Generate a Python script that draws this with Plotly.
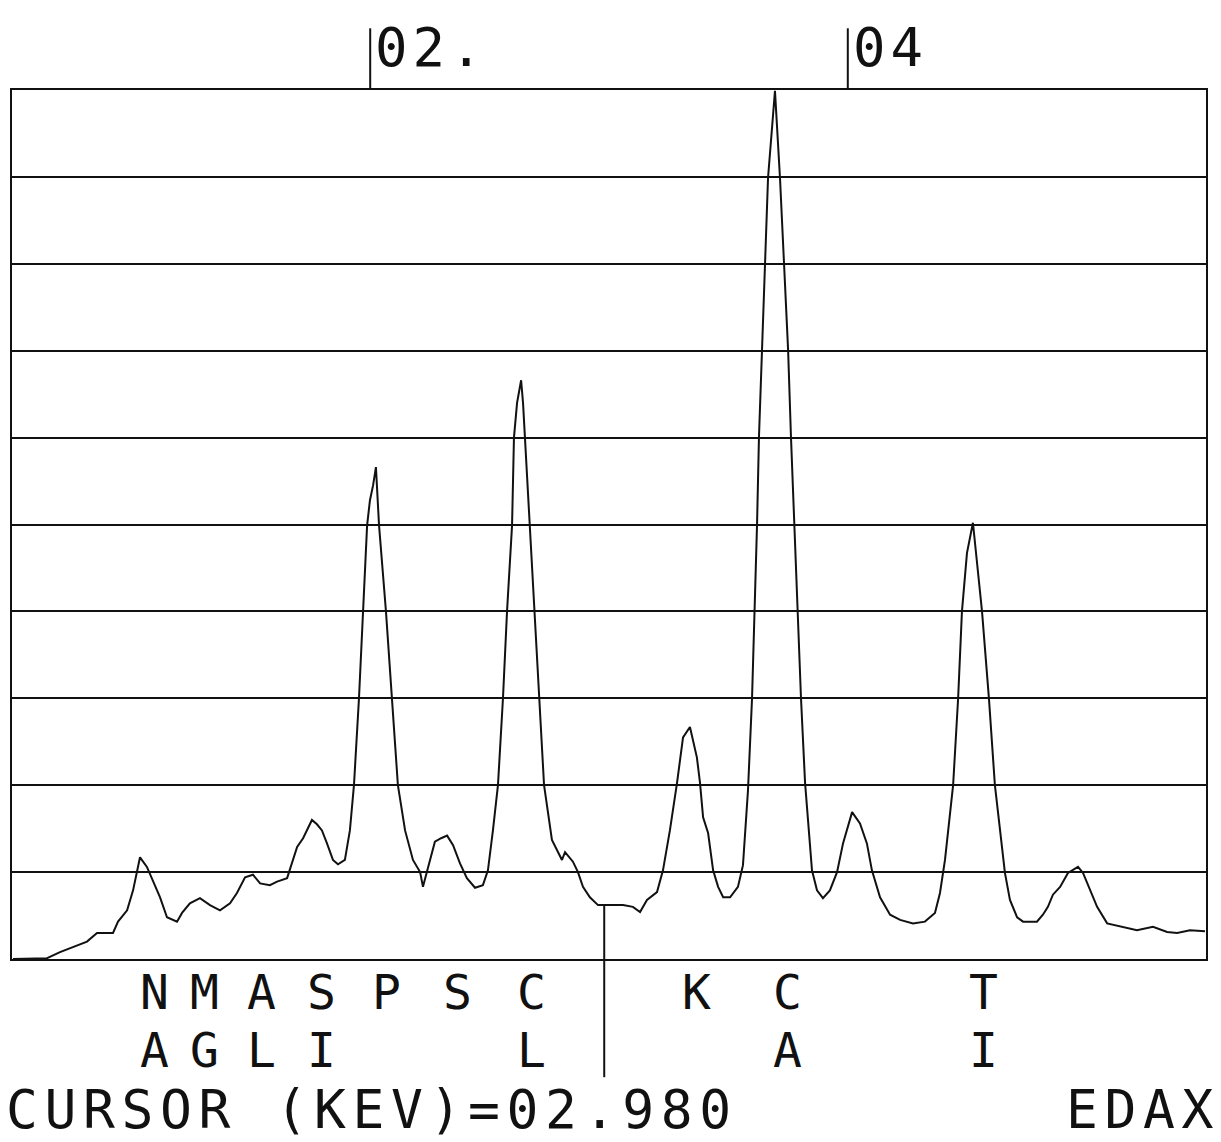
import plotly.graph_objects as go

# ---------------- data ----------------
energy_kev = [
    0.504, 0.647, 0.701, 0.772, 0.814, 0.856, 0.923, 0.944, 0.982, 1.007,
    1.036, 1.065, 1.090, 1.120, 1.149, 1.191, 1.212, 1.245, 1.287, 1.329,
    1.371, 1.413, 1.442, 1.476, 1.509, 1.539, 1.580, 1.610, 1.652, 1.673,
    1.694, 1.719, 1.740, 1.756, 1.777, 1.798, 1.819, 1.844, 1.865, 1.894,
    1.915, 1.932, 1.953, 1.970, 1.987, 1.999, 2.012, 2.024, 2.037, 2.066,
    2.091, 2.116, 2.146, 2.179, 2.209, 2.221, 2.242, 2.271, 2.297, 2.322,
    2.347, 2.376, 2.405, 2.439, 2.472, 2.493, 2.514, 2.535, 2.556, 2.573,
    2.594, 2.602, 2.615, 2.632, 2.640, 2.648, 2.669, 2.690, 2.707, 2.728,
    2.761, 2.782, 2.803, 2.816, 2.849, 2.870, 2.891, 2.920, 2.954, 2.996,
    3.059, 3.100, 3.130, 3.159, 3.201, 3.226, 3.255, 3.285, 3.310, 3.339,
    3.368, 3.381, 3.394, 3.415, 3.436, 3.457, 3.478, 3.507, 3.540, 3.561,
    3.582, 3.599, 3.611, 3.620, 3.628, 3.641, 3.653, 3.666, 3.695, 3.716,
    3.733, 3.750, 3.762, 3.775, 3.791, 3.804, 3.821, 3.850, 3.871, 3.896,
    3.925, 3.955, 3.980, 4.018, 4.051, 4.080, 4.101, 4.135, 4.177, 4.219,
    4.273, 4.323, 4.365, 4.386, 4.407, 4.428, 4.441, 4.462, 4.478, 4.499,
    4.524, 4.562, 4.591, 4.616, 4.637, 4.658, 4.679, 4.709, 4.734, 4.792,
    4.817, 4.838, 4.859, 4.889, 4.922, 4.964, 4.985, 5.014, 5.044, 5.086,
    5.152, 5.211, 5.278, 5.337, 5.379, 5.433, 5.496,
]
counts_div = [
    0.00, 0.01, 0.08, 0.16, 0.20, 0.30, 0.30, 0.43, 0.56, 0.79,
    1.17, 1.06, 0.91, 0.71, 0.48, 0.43, 0.53, 0.64, 0.70, 0.62,
    0.56, 0.64, 0.76, 0.94, 0.97, 0.87, 0.85, 0.89, 0.93, 1.10,
    1.29, 1.39, 1.52, 1.60, 1.55, 1.48, 1.33, 1.14, 1.09, 1.14,
    1.48, 2.00, 3.00, 4.00, 4.99, 5.28, 5.45, 5.66, 4.99, 4.00,
    3.00, 2.00, 1.48, 1.14, 1.00, 0.83, 1.05, 1.35, 1.39, 1.42,
    1.31, 1.10, 0.93, 0.82, 0.85, 1.02, 1.48, 2.00, 3.00, 4.00,
    4.99, 6.00, 6.40, 6.66, 6.40, 6.00, 4.99, 4.00, 3.00, 2.00,
    1.37, 1.25, 1.14, 1.23, 1.12, 1.00, 0.83, 0.71, 0.62, 0.62,
    0.62, 0.60, 0.54, 0.68, 0.77, 1.02, 1.48, 2.03, 2.55, 2.67,
    2.32, 2.03, 1.63, 1.45, 1.02, 0.83, 0.71, 0.71, 0.83, 1.08,
    1.94, 3.00, 4.00, 5.01, 6.01, 7.01, 8.00, 8.99, 9.99, 8.99,
    8.00, 7.01, 6.01, 5.01, 4.00, 3.00, 2.03, 1.02, 0.79, 0.70,
    0.79, 1.00, 1.33, 1.69, 1.56, 1.33, 1.02, 0.71, 0.51, 0.45,
    0.41, 0.43, 0.53, 0.76, 1.14, 1.68, 2.00, 3.00, 4.00, 4.67,
    5.02, 4.00, 3.00, 2.00, 1.48, 0.99, 0.68, 0.48, 0.43, 0.43,
    0.51, 0.60, 0.74, 0.83, 0.99, 1.06, 0.99, 0.79, 0.60, 0.41,
    0.37, 0.33, 0.37, 0.31, 0.30, 0.33, 0.32,
]

element_kev = [1.04, 1.25, 1.49, 1.74, 2.01, 2.31, 2.62, 3.31, 3.69, 4.51]
element_row1 = ["N", "M", "A", "S", "P", "S", "C", "K", "C", "T"]
element_row2 = ["A", "G", "L", "I", "", "", "L", "", "A", "I"]

scale_tick_kev = [2, 4]
scale_tick_labels = ["02.", "04"]

cursor_kev = 2.98
cursor_count = 0.62
cursor_label = "CURSOR (KEV)=02.980"
brand_label = "EDAX"

X_RANGE = [0.5, 5.5]
Y_RANGE = [0, 10]

# ---------------- figure ----------------
FONT = "DejaVu Sans Mono"
INK = "#111111"


def spaced(s, px):
    # letter spacing on all characters except the last one
    return f'<span style="letter-spacing:{px}px">{s[:-1]}</span>{s[-1]}'


fig = go.Figure()
fig.add_trace(go.Scatter(
    x=energy_kev, y=counts_div, mode="lines",
    line=dict(color=INK, width=2), hoverinfo="skip", showlegend=False,
))

fig.update_layout(
    width=1221, height=1142,
    margin=dict(l=12, r=15, t=90, b=183),
    paper_bgcolor="white", plot_bgcolor="white",
    showlegend=False,
    xaxis=dict(range=X_RANGE, showgrid=False, zeroline=False,
               showticklabels=False, ticks="", showline=True, mirror=True,
               linecolor=INK, linewidth=2),
    yaxis=dict(range=Y_RANGE, dtick=1, showgrid=True, gridcolor=INK,
               gridwidth=2, zeroline=False, showticklabels=False, ticks="",
               showline=True, mirror=True, linecolor=INK, linewidth=2),
)

shapes = []
# cursor line
shapes.append(dict(type="line", xref="x", yref="paper",
                   x0=cursor_kev, x1=cursor_kev,
                   y0=cursor_count / Y_RANGE[1], y1=-0.136,
                   line=dict(color=INK, width=2)))
# top scale ticks
for k in scale_tick_kev:
    shapes.append(dict(type="line", xref="x", yref="paper",
                       x0=k, x1=k, y0=1, y1=1.071,
                       line=dict(color=INK, width=2)))
fig.update_layout(shapes=shapes)

annotations = []
for k, lab in zip(scale_tick_kev, scale_tick_labels):
    annotations.append(dict(x=k, xref="x", y=1.049, yref="paper",
                            text=spaced(lab, 5), showarrow=False,
                            xanchor="left", yanchor="middle", xshift=4,
                            borderpad=0,
                            font=dict(family=FONT, size=54, color=INK)))
for k, a, b in zip(element_kev, element_row1, element_row2):
    if a:
        annotations.append(dict(x=k, xref="x", y=-0.0380, yref="paper",
                                text=a, showarrow=False, xanchor="left",
                                yanchor="middle", xshift=-2, borderpad=0,
                                font=dict(family=FONT, size=48, color=INK)))
    if b:
        annotations.append(dict(x=k, xref="x", y=-0.1047, yref="paper",
                                text=b, showarrow=False, xanchor="left",
                                yanchor="middle", xshift=-2, borderpad=0,
                                font=dict(family=FONT, size=48, color=INK)))
annotations.append(dict(x=-0.006, xref="paper", y=-0.1734, yref="paper",
                        text=spaced(cursor_label, 6.6), showarrow=False,
                        xanchor="left", yanchor="middle", borderpad=0,
                        font=dict(family=FONT, size=53, color=INK)))
annotations.append(dict(x=1.0075, xref="paper", y=-0.1734, yref="paper",
                        text=spaced(brand_label, 6.6), showarrow=False,
                        xanchor="right", yanchor="middle", borderpad=0,
                        font=dict(family=FONT, size=53, color=INK)))
fig.update_layout(annotations=annotations)

fig.write_html("out.html")
